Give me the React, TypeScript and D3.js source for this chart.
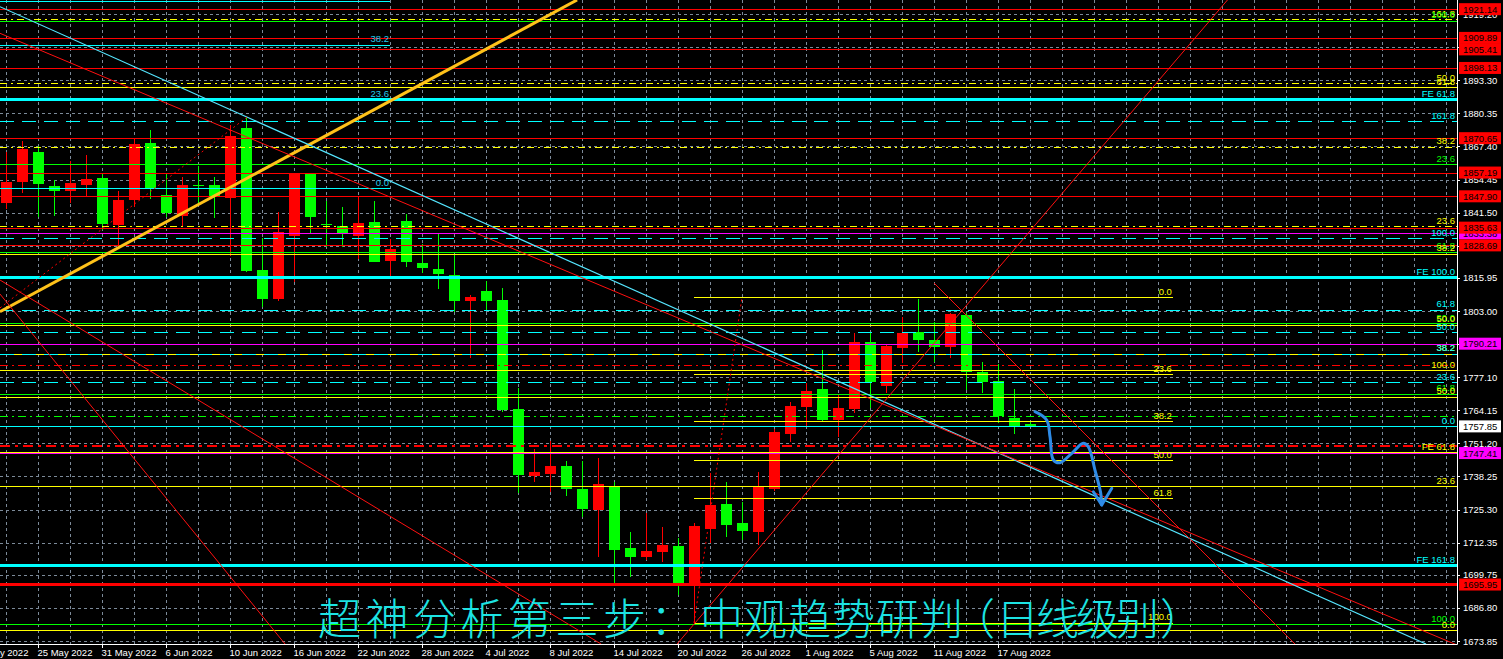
import React, { useEffect } from "react";
import * as d3 from "d3";

const W = 1503;
const H = 659;
const PLOT_RIGHT = 1457;
const PLOT_BOTTOM = 644;

// Daily bars, 23 May 2022 .. 19 Aug 2022 (bar index 0..64)
const barDates = [
  "23 May", "24 May", "25 May", "26 May", "27 May", "30 May", "31 May",
  "1 Jun", "2 Jun", "3 Jun", "6 Jun", "7 Jun", "8 Jun", "9 Jun", "10 Jun", "13 Jun", "14 Jun", "15 Jun", "16 Jun", "17 Jun",
  "20 Jun", "21 Jun", "22 Jun", "23 Jun", "24 Jun", "27 Jun", "28 Jun", "29 Jun", "30 Jun",
  "1 Jul", "4 Jul", "5 Jul", "6 Jul", "7 Jul", "8 Jul", "11 Jul", "12 Jul", "13 Jul", "14 Jul", "15 Jul",
  "18 Jul", "19 Jul", "20 Jul", "21 Jul", "22 Jul", "25 Jul", "26 Jul", "27 Jul", "28 Jul", "29 Jul",
  "1 Aug", "2 Aug", "3 Aug", "4 Aug", "5 Aug", "8 Aug", "9 Aug", "10 Aug", "11 Aug", "12 Aug",
  "15 Aug", "16 Aug", "17 Aug", "18 Aug", "19 Aug",
];

const opens = [
  1845.40, 1853.61, 1865.24, 1851.93, 1850.09, 1852.32, 1855.06, 1836.66, 1846.45, 1868.76,
  1848.41, 1840.19, 1852.32, 1852.32, 1847.35, 1874.63, 1819.05, 1807.70, 1832.48, 1856.63,
  1836.94, 1836.27, 1832.48, 1837.84, 1822.69, 1838.23, 1821.79, 1819.44, 1817.09, 1807.04,
  1810.83, 1807.31, 1764.65, 1738.54, 1739.21, 1742.34, 1733.34, 1725.12, 1734.24, 1710.36,
  1706.72, 1708.80, 1711.03, 1695.76, 1717.56, 1727.46, 1719.86, 1716.62, 1733.34, 1754.86,
  1765.55, 1772.48, 1760.34, 1764.65, 1790.99, 1773.77, 1788.64, 1794.67, 1791.65, 1789.03,
  1801.44, 1779.13, 1775.61, 1761.24, 1758.78,
];
const highs = [
  1865.36, 1869.54, 1867.59, 1854.28, 1861.83, 1864.06, 1856.90, 1850.09, 1870.60, 1873.85,
  1856.90, 1855.33, 1859.76, 1855.33, 1876.00, 1879.05, 1831.46, 1841.64, 1857.14, 1857.14,
  1846.06, 1843.59, 1847.74, 1846.06, 1831.07, 1840.85, 1829.23, 1833.14, 1825.31, 1809.27,
  1814.75, 1811.89, 1772.75, 1748.87, 1752.01, 1744.30, 1744.30, 1745.59, 1736.08, 1716.51,
  1723.94, 1718.58, 1714.27, 1719.91, 1739.60, 1736.19, 1728.36, 1740.11, 1756.82, 1767.50,
  1774.71, 1787.74, 1770.13, 1794.28, 1794.28, 1789.70, 1800.54, 1807.58, 1798.82, 1802.10,
  1802.10, 1782.93, 1782.14, 1772.36, 1760.07,
];
const lows = [
  1842.81, 1849.07, 1839.91, 1840.19, 1845.16, 1848.02, 1834.71, 1828.45, 1843.83, 1846.72,
  1839.91, 1836.27, 1845.16, 1839.40, 1824.53, 1818.27, 1804.69, 1806.92, 1814.47, 1833.65,
  1828.17, 1828.17, 1823.24, 1822.00, 1816.43, 1820.34, 1817.76, 1811.62, 1802.61, 1784.49,
  1803.40, 1763.60, 1731.89, 1736.08, 1732.28, 1730.60, 1722.49, 1706.84, 1696.66, 1698.77,
  1705.55, 1704.88, 1691.85, 1681.00, 1712.08, 1714.43, 1713.37, 1711.42, 1732.67, 1751.85,
  1758.11, 1759.95, 1753.57, 1762.96, 1764.92, 1770.79, 1782.77, 1787.07, 1783.16, 1784.73,
  1772.08, 1771.03, 1759.29, 1754.86, 1757.72,
];
const closes = [
  1853.61, 1866.41, 1852.83, 1850.09, 1853.10, 1854.67, 1837.06, 1846.45, 1868.37, 1851.03,
  1841.36, 1852.32, 1852.12, 1847.62, 1871.50, 1818.78, 1807.70, 1833.81, 1856.63, 1839.91,
  1836.82, 1833.03, 1837.45, 1822.30, 1827.27, 1822.30, 1819.95, 1817.37, 1807.04, 1808.37,
  1807.04, 1764.26, 1738.81, 1740.11, 1742.34, 1733.34, 1725.39, 1735.29, 1709.46, 1706.84,
  1709.07, 1711.42, 1696.66, 1718.85, 1727.07, 1719.24, 1717.01, 1734.24, 1755.76, 1765.94,
  1771.69, 1760.34, 1765.16, 1790.99, 1775.10, 1789.43, 1794.51, 1791.65, 1789.03, 1801.83,
  1779.25, 1775.33, 1761.91, 1757.99, 1757.85,
];

const priceTicks = [
  1919.20, 1906.25, 1893.30, 1880.35, 1867.40, 1854.45, 1841.50, 1828.55, 1815.95, 1803.00,
  1790.05, 1777.10, 1764.15, 1751.20, 1738.25, 1725.30, 1712.35, 1699.75, 1686.80, 1673.85,
];

const dateTickLabels = [
  "19 May 2022", "25 May 2022", "31 May 2022", "6 Jun 2022", "10 Jun 2022", "16 Jun 2022",
  "22 Jun 2022", "28 Jun 2022", "4 Jul 2022", "8 Jul 2022", "14 Jul 2022", "20 Jul 2022",
  "26 Jul 2022", "1 Aug 2022", "5 Aug 2022", "11 Aug 2022", "17 Aug 2022",
];
const dateTickBars = [-2, 2, 6, 10, 14, 18, 22, 26, 30, 34, 38, 42, 46, 50, 54, 58, 62];

// Horizontal price levels (full width)
const levelPrices = [
  1921.14, 1917.18, 1916.63, 1909.89, 1905.41, 1898.13, 1892.13, 1890.56, 1885.71, 1877.25,
  1870.65, 1867.20, 1860.42, 1857.19, 1847.90, 1836.27, 1835.63, 1833.38, 1831.46, 1828.69,
  1826.10, 1825.43, 1816.04, 1803.40, 1798.31, 1797.53, 1794.67, 1790.21, 1786.18, 1786.18,
  1781.75, 1779.80, 1775.10, 1770.64, 1769.35, 1761.80, 1757.99, 1750.05, 1747.70, 1747.41,
  1734.40, 1703.32, 1695.95, 1680.38, 1678.04,
];
const levelKinds = [
  "red", "yellowDashDot", "green", "red", "red", "red", "yellowDashDot", "yellow", "cyanThick", "cyanDash",
  "red", "yellowDashDot", "green", "red", "red", "yellowDashDot", "red", "magenta", "cyanDash", "red",
  "green", "yellow", "cyanThick", "cyanDash", "green", "yellow", "cyanDash", "magenta", "yellow", "cyanDash",
  "redDashDot", "yellow", "cyanDash", "green", "yellow", "greenDashDot", "cyan", "redDashDotThick", "yellow", "magenta",
  "yellow", "cyanThick", "redThick", "green", "yellow",
];
const levelTexts = [
  "", "161.8", "100.0", "", "", "", "50.0", "61.8", "FE 61.8", "161.8",
  "", "38.2", "23.6", "", "", "23.6", "", "", "100.0", "",
  "61.8", "38.2", "FE 100.0", "61.8", "50.0", "50.0", "50.0", "", "38.2", "38.2",
  "", "100.0", "23.6", "61.8", "50.0", "", "0.0", "", "FE 61.8", "",
  "23.6", "FE 161.8", "", "100.0", "0.0",
];

// Right-axis price markers
const markerPrices = [1833.38, 1790.21, 1747.41, 1921.14, 1909.89, 1905.41, 1898.13, 1870.65, 1857.19, 1847.90, 1835.63, 1828.69, 1695.95, 1757.85];
const markerKinds = ["magenta", "magenta", "magenta", "red", "red", "red", "red", "red", "red", "red", "red", "red", "red", "white"];

// Fibonacci retracement (right, yellow)
const fibRightBars = [42.97, 72.9];
const fibRightPrices = [1808.37, 1778.23, 1759.83, 1744.57, 1729.70, 1681.09];
const fibRightTexts = ["0.0", "23.6", "38.2", "50.0", "61.8", "100.0"];

// Fibonacci retracement (left, cyan)
const fibLeftBars = [-0.5, 23.97];
const fibLeftPrices = [1924.50, 1907.16, 1885.71, 1851.03];
const fibLeftTexts = ["", "38.2", "23.6", "0.0"];

// Trend lines [bar1, price1, bar2, price2]
const trendLines = [
  [-0.41, 1802.73, 35.66, 1924.73],
  [-0.41, 1922.11, 88.72, 1672.67],
  [-0.41, 1911.70, 90.66, 1672.28],
  [-0.41, 1815.14, 37.16, 1672.67],
  [-0.41, 1809.66, 17.41, 1672.67],
  [41.91, 1672.67, 76.31, 1924.73],
  [57.97, 1813.96, 80.53, 1672.67],
  [42.97, 1680.90, 45.97, 1808.50],
  [-0.41, 1804.20, 15.03, 1878.90],
];
const trendKinds = ["gold", "cyanThin", "redThin", "redThin", "redThin", "redThin", "redThin", "redDots", "redDots"];

// Hand-drawn projection arrow
const arrowBars = [64.28, 65.01, 65.22, 65.43, 65.84, 66.58, 67.30, 67.61, 68.03, 68.39, 68.45];
const arrowPrices = [1763.59, 1760.34, 1753.80, 1744.69, 1743.63, 1747.31, 1751.22, 1749.89, 1740.77, 1731.65, 1727.07];
const arrowHeadBars = [67.93, 68.45, 69.08];
const arrowHeadPrices = [1732.28, 1727.07, 1733.60];

const titleChars = ["超", "神", "分", "析", "第", "三", "步", "：", "中", "观", "趋", "势", "研", "判", "（", "日", "线", "级", "别", "）"];

const STYLE: Record<string, { stroke: string; width: number; dash?: string }> = {
  red: { stroke: "#FF0000", width: 1 },
  redThick: { stroke: "#FF0000", width: 2.5 },
  redDashDot: { stroke: "#FF0000", width: 1, dash: "8,4,2,4" },
  redDashDotThick: { stroke: "#FF0000", width: 2.2, dash: "10,5,3,5" },
  yellow: { stroke: "#FFFF00", width: 1 },
  yellowDashDot: { stroke: "#FFFF00", width: 1, dash: "7,4,2,4" },
  green: { stroke: "#00FF00", width: 1 },
  greenDashDot: { stroke: "#00FF00", width: 1, dash: "8,4,2,4" },
  cyan: { stroke: "#00FFFF", width: 1 },
  cyanThick: { stroke: "#00FFFF", width: 2.5 },
  cyanDash: { stroke: "#00FFFF", width: 1, dash: "14,8" },
  magenta: { stroke: "#FF00FF", width: 1 },
  gold: { stroke: "#FFC21A", width: 3 },
  cyanThin: { stroke: "#55E6FF", width: 1.2 },
  redThin: { stroke: "#FF1010", width: 1 },
  redDots: { stroke: "#FF0000", width: 1, dash: "2,3" },
};

const MARKER_FILL: Record<string, string> = { red: "#FF0000", magenta: "#FF00FF", white: "#FFFFFF" };

const FONT = "'Liberation Sans', Arial, sans-serif";

export default function App() {
  useEffect(() => {
    document.body.style.margin = "0";
    document.body.style.background = "#000";
  }, []);

  const x = d3.scaleLinear().domain([0, 64]).range([6.5, 1030.5]);
  const y = d3.scaleLinear().domain([1673.85, 1893.30]).range([641, 80.3]);
  const crisp = (v: number) => Math.round(v) + 0.5;

  const vGridBars = d3.range(0, 91, 2);
  const bodyHalf = 5.5;

  // character cell positions for the title
  const titleX = titleChars.map((_, i) => {
    if (i < 8) return 318 + i * 47.5;
    if (i < 14) return 700 + (i - 8) * 44;
    if (i === 14) return 952;
    if (i < 19) return 996 + (i - 15) * 40;
    return 1160;
  });

  const lineGen = d3
    .line<number>()
    .x((i) => x(arrowBars[i]))
    .y((i) => y(arrowPrices[i]))
    .curve(d3.curveCatmullRom.alpha(0.5));
  const arrowD = lineGen(d3.range(arrowBars.length)) || "";
  const headD =
    d3
      .line<number>()
      .x((i) => x(arrowHeadBars[i]))
      .y((i) => y(arrowHeadPrices[i]))(d3.range(arrowHeadBars.length)) || "";

  return (
    <svg
      width={W}
      height={H}
      style={{ position: "absolute", left: 0, top: 0, background: "#000", display: "block" }}
    >
      <defs>
        <clipPath id="plot">
          <rect x={0} y={0} width={PLOT_RIGHT} height={PLOT_BOTTOM} />
        </clipPath>
      </defs>
      <rect x={0} y={0} width={W} height={H} fill="#000" />

      <g clipPath="url(#plot)">
        {/* grid */}
        <g stroke="#7C8A99" strokeWidth={1} strokeDasharray="3,3" shapeRendering="crispEdges">
          {priceTicks.map((p, i) => (
            <line key={"hg" + i} x1={0} x2={PLOT_RIGHT} y1={crisp(y(p))} y2={crisp(y(p))} />
          ))}
          {vGridBars.map((b) => (
            <line key={"vg" + b} x1={x(b)} x2={x(b)} y1={0} y2={PLOT_BOTTOM} />
          ))}
        </g>

        {/* candles */}
        <g shapeRendering="crispEdges">
          {opens.map((o, i) => {
            const c = closes[i];
            const up = c >= o;
            const col = up ? "#FF0000" : "#00FF00";
            const cx = x(i);
            const top = y(Math.max(o, c));
            const bot = y(Math.min(o, c));
            return (
              <g key={"c" + i}>
                <line x1={cx} x2={cx} y1={y(highs[i])} y2={y(lows[i])} stroke={col} strokeWidth={1} />
                <rect x={cx - bodyHalf} y={top} width={bodyHalf * 2} height={Math.max(1, bot - top)} fill={col} />
              </g>
            );
          })}
        </g>

        {/* horizontal levels */}
        <g shapeRendering="crispEdges">
          {levelPrices.map((p, i) => {
            const s = STYLE[levelKinds[i]];
            const yy = s.width === 1 ? crisp(y(p)) : y(p);
            return (
              <line
                key={"lv" + i}
                x1={0}
                x2={PLOT_RIGHT}
                y1={yy}
                y2={yy}
                stroke={s.stroke}
                strokeWidth={s.width}
                strokeDasharray={s.dash}
              />
            );
          })}
          {fibRightPrices.map((p, i) => (
            <line
              key={"fr" + i}
              x1={x(fibRightBars[0])}
              x2={x(fibRightBars[1])}
              y1={crisp(y(p))}
              y2={crisp(y(p))}
              stroke="#FFFF00"
              strokeWidth={1}
            />
          ))}
          {fibLeftPrices.map((p, i) => (
            <line
              key={"fl" + i}
              x1={x(fibLeftBars[0])}
              x2={x(fibLeftBars[1])}
              y1={crisp(y(p))}
              y2={crisp(y(p))}
              stroke="#00FFFF"
              strokeWidth={1}
            />
          ))}
        </g>

        {/* trend lines */}
        <g>
          {trendLines.map((t, i) => {
            const s = STYLE[trendKinds[i]];
            return (
              <line
                key={"tl" + i}
                x1={x(t[0])}
                y1={y(t[1])}
                x2={x(t[2])}
                y2={y(t[3])}
                stroke={s.stroke}
                strokeWidth={s.width}
                strokeDasharray={s.dash}
              />
            );
          })}
        </g>

        {/* level labels */}
        <g fontFamily={FONT} fontSize={9.5} textAnchor="end">
          {levelPrices.map((p, i) =>
            levelTexts[i] ? (
              <text key={"lt" + i} x={1455} y={y(p) - 2.5} fill={STYLE[levelKinds[i]].stroke}>
                {levelTexts[i]}
              </text>
            ) : null
          )}
          {fibRightPrices.map((p, i) => (
            <text key={"frt" + i} x={x(fibRightBars[1]) - 1} y={y(p) - 2.5} fill="#FFFF00">
              {fibRightTexts[i]}
            </text>
          ))}
          {fibLeftPrices.map((p, i) =>
            fibLeftTexts[i] ? (
              <text key={"flt" + i} x={x(fibLeftBars[1]) - 1} y={y(p) - 2.5} fill="#22CCEE">
                {fibLeftTexts[i]}
              </text>
            ) : null
          )}
        </g>

        {/* hand-drawn arrow */}
        <g fill="none" stroke="#2E8BE6" strokeWidth={3} strokeLinecap="round" strokeLinejoin="round">
          <path d={arrowD} />
          <path d={headD} />
        </g>
      </g>

      {/* title */}
      <text
        x={titleX.join(" ")}
        y={635}
        fontFamily="'Noto Sans CJK SC', sans-serif"
        fontWeight={300}
        fontSize={43}
        fill="#1CE3E3"
      >
        {titleChars.join("")}
      </text>

      {/* axes */}
      <line x1={PLOT_RIGHT + 0.5} x2={PLOT_RIGHT + 0.5} y1={0} y2={PLOT_BOTTOM + 0.5} stroke="#FFFFFF" strokeWidth={1} />
      <line x1={0} x2={PLOT_RIGHT + 0.5} y1={PLOT_BOTTOM + 0.5} y2={PLOT_BOTTOM + 0.5} stroke="#FFFFFF" strokeWidth={1} />
      <g fontFamily={FONT} fontSize={9.5} fill="#FFFFFF">
        {priceTicks.map((p, i) => (
          <g key={"pt" + i}>
            <line x1={PLOT_RIGHT} x2={PLOT_RIGHT + 3} y1={crisp(y(p))} y2={crisp(y(p))} stroke="#FFFFFF" />
            <text x={1463} y={y(p) + 3.5}>
              {p.toFixed(2)}
            </text>
          </g>
        ))}
        {dateTickLabels.map((lab, i) => (
          <g key={"dt" + i}>
            <line
              x1={x(dateTickBars[i])}
              x2={x(dateTickBars[i])}
              y1={PLOT_BOTTOM}
              y2={PLOT_BOTTOM + 4}
              stroke="#FFFFFF"
            />
            <text x={x(dateTickBars[i]) - 1} y={656}>
              {lab}
            </text>
          </g>
        ))}
      </g>

      {/* price markers */}
      <g fontFamily={FONT} fontSize={9.5}>
        {markerPrices.map((p, i) => {
          const yy = y(p);
          return (
            <g key={"mk" + i}>
              <rect x={1459} y={yy - 6} width={42} height={12} fill={MARKER_FILL[markerKinds[i]]} />
              <text x={1463} y={yy + 3.5} fill="#000000">
                {p.toFixed(2)}
              </text>
            </g>
          );
        })}
      </g>
      <desc>{barDates.join(",")}</desc>
    </svg>
  );
}
